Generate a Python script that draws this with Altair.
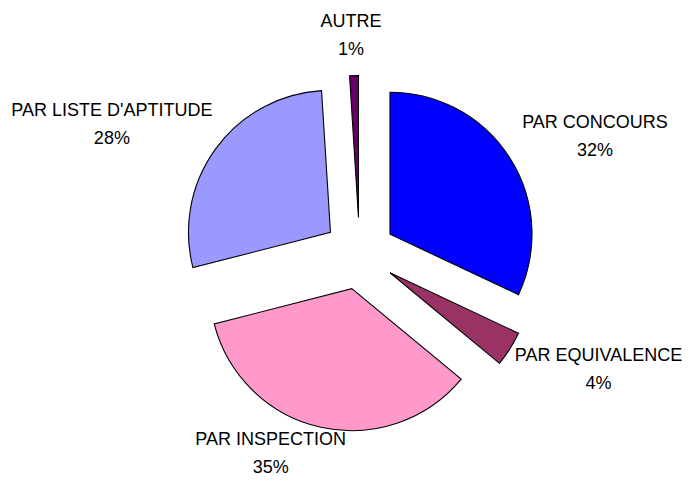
import altair as alt
import pandas as pd

categories = ["PAR CONCOURS", "PAR EQUIVALENCE", "PAR INSPECTION", "PAR LISTE D'APTITUDE", "AUTRE"]
values = [32, 4, 35, 28, 1]
colors = ["#0000FF", "#993366", "#FF99CC", "#9999FF", "#660066"]

df = pd.DataFrame({"category": categories, "value": values, "order": list(range(len(values)))})

W, H = 678, 468          # drawing area
CX, CY = 351.6, 245.5   # pie centre in plot coordinates
R = 142                  # outer radius
E = 36                   # explosion distance
LRX = 152                # horizontal label distance from slice apex
LRY = 182                # vertical label distance from slice apex
FS = 18                  # label font size
LH = 28                  # label line height

cnt_narrow = "length(replace(datum.category, regexp(\"[^ I']\", \"g\"), \"\"))"
cnt_mid = "length(replace(datum.category, regexp(\"[^LT]\", \"g\"), \"\"))"

base = alt.Chart(df).transform_joinaggregate(
    total="sum(value)"
).transform_window(
    cum="sum(value)", sort=[alt.SortField("order")], frame=[None, 0]
).transform_calculate(
    a0="(datum.cum - datum.value) / datum.total * 2 * PI",
    a1="datum.cum / datum.total * 2 * PI",
    nN=cnt_narrow,
    nM=cnt_mid,
).transform_calculate(
    mid="(datum.a0 + datum.a1) / 2",
    w=f"{FS} * (0.70 * (length(datum.category) - datum.nN - datum.nM) + 0.58 * datum.nM + 0.26 * datum.nN)",
).transform_calculate(
    px=f"{CX} + {E} * sin(datum.mid)",
    py=f"{CY} - {E} * cos(datum.mid)",
    pct="format(datum.value / datum.total, '.0%')",
).transform_calculate(
    cx0=f"datum.px + {LRX} * sin(datum.mid) + datum.w / 2 * clamp(3 * sin(datum.mid), -1, 1) + 6 * abs(sin(datum.mid))",
    cy=f"min(datum.py - {LRY} * cos(datum.mid), {H} - {LH} / 2 - 8)",
).transform_calculate(
    cx=f"clamp(datum.cx0, datum.w / 2 + 2, {W} - datum.w / 2 - 2)",
)

arcs = base.mark_arc(outerRadius=R, stroke="black", strokeWidth=1.1).encode(
    x=alt.X("px:Q", scale=None),
    y=alt.Y("py:Q", scale=None),
    theta=alt.Theta("a0:Q", scale=None),
    theta2="a1:Q",
    color=alt.Color("category:N", scale=alt.Scale(domain=categories, range=colors), legend=None),
)

txt = dict(font="Liberation Sans", fontSize=FS, align="center", baseline="middle", color="black")

line1 = base.mark_text(dy=-LH / 2, **txt).encode(
    x=alt.X("cx:Q", scale=None),
    y=alt.Y("cy:Q", scale=None),
    text="category:N",
)
line2 = base.mark_text(dy=LH / 2, **txt).encode(
    x=alt.X("cx:Q", scale=None),
    y=alt.Y("cy:Q", scale=None),
    text="pct:N",
)

chart = alt.layer(arcs, line1, line2).properties(
    width=W, height=H, autosize=alt.AutoSizeParams(type="none"), padding=0
).configure_view(stroke=None)

chart.save("out.html", embed_options={"renderer": "svg", "actions": False})
